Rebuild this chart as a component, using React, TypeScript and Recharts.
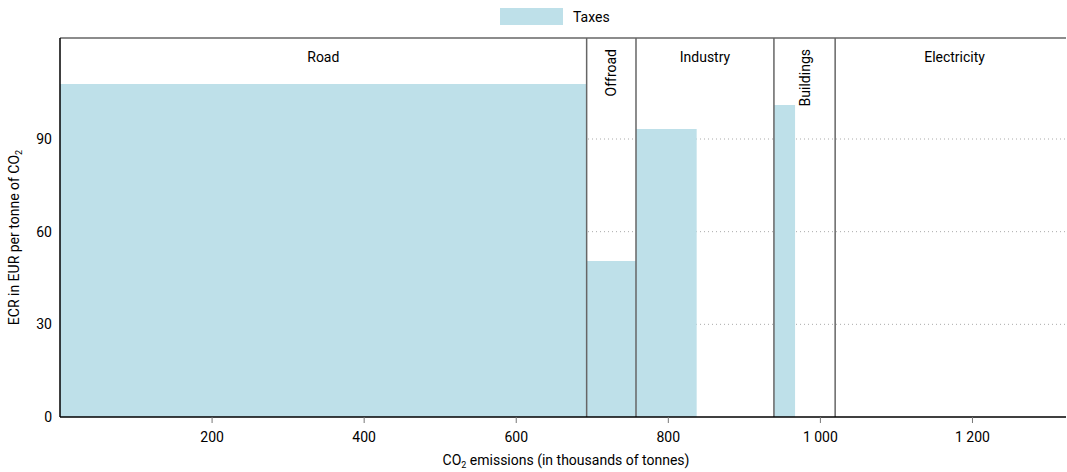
import React from 'react';
import {
  ComposedChart,
  Area,
  XAxis,
  YAxis,
  CartesianGrid,
  ReferenceLine,
  ReferenceArea,
} from 'recharts';

// Sector names and their emission boundaries (thousands of tonnes)
const sectors = ['Road', 'Offroad', 'Industry', 'Buildings', 'Electricity'];
const sectorStarts = [0, 692.6, 757.5, 938.9, 1019.4];
const sectorEnds = [692.6, 757.5, 938.9, 1019.4, 1323];
const rotatedLabels = [false, true, false, true, false];

// Step points of the tax rate (EUR per tonne of CO2) along cumulative emissions
const stepX = [0, 692.6, 757.5, 837.3, 938.9, 966.7, 1019.4, 1323];
const taxRate = [107.8, 50.5, 93.2, 0, 101, 0, 0, 0];

const xTicks = [200, 400, 600, 800, 1000, 1200];
const yTicks = [0, 30, 60, 90];

const data = stepX.map((x, i) => ({ x, taxes: taxRate[i] }));

const FONT = "'Liberation Sans Narrow', 'Arial Narrow', 'Roboto', sans-serif";
const FILL = '#bee0e9';
const X_MAX = 1323;
const Y_MAX = 122.7;

const fmt = (v: number) => {
  const s = String(v);
  return s.length > 3 ? s.slice(0, s.length - 3) + ' ' + s.slice(-3) : s;
};

const SectorLabel = (props: any) => {
  const { viewBox, text, rotated, dx = 0 } = props;
  const cx = viewBox.x + viewBox.width / 2 + dx;
  const top = viewBox.y;
  if (rotated) {
    return (
      <text
        x={cx}
        y={top + 11}
        transform={`rotate(-90, ${cx}, ${top + 11})`}
        textAnchor="end"
        dominantBaseline="central"
        fontFamily={FONT}
        fontSize={14}
        fill="#000"
      >
        {text}
      </text>
    );
  }
  return (
    <text
      x={cx}
      y={top + 24}
      textAnchor="middle"
      fontFamily={FONT}
      fontSize={14}
      fill="#000"
    >
      {text}
    </text>
  );
};

const XLabel = (props: any) => {
  const { viewBox } = props;
  const cx = viewBox.x + viewBox.width / 2 + 3;
  return (
    <text x={cx} y={465} textAnchor="middle" fontFamily={FONT} fontSize={14} fill="#000">
      CO
      <tspan fontSize={9} dy={3}>2</tspan>
      <tspan dy={-3}> emissions (in thousands of tonnes)</tspan>
    </text>
  );
};

const YLabel = (props: any) => {
  const { viewBox } = props;
  const cy = viewBox.y + viewBox.height / 2 + 10;
  const x = 19;
  return (
    <text
      x={x}
      y={cy}
      transform={`rotate(-90, ${x}, ${cy})`}
      textAnchor="middle"
      fontFamily={FONT}
      fontSize={14}
      fill="#000"
    >
      ECR in EUR per tonne of CO
      <tspan fontSize={9} dy={3}>2</tspan>
    </text>
  );
};

export default function App() {
  return (
    <div style={{ position: 'absolute', left: 0, top: 0, width: 1067, height: 472, background: '#fff' }}>
      <div
        style={{
          position: 'absolute',
          left: 500,
          top: 8,
          display: 'flex',
          alignItems: 'center',
          fontFamily: FONT,
          fontSize: 14,
          color: '#000',
          zIndex: 2,
        }}
      >
        <span style={{ display: 'inline-block', width: 63, height: 17, background: FILL }} />
        <span style={{ marginLeft: 10 }}>Taxes</span>
      </div>
      <ComposedChart
        width={1067}
        height={472}
        data={data}
        margin={{ top: 38, right: 1, bottom: 25, left: 0 }}
      >
        <CartesianGrid
          horizontal
          vertical={false}
          stroke="#aaa"
          strokeDasharray="1 3"
          horizontalValues={[30, 60, 90]}
        />
        <XAxis
          type="number"
          dataKey="x"
          domain={[0, X_MAX]}
          ticks={xTicks}
          tickFormatter={fmt}
          height={30}
          allowDataOverflow
          axisLine={{ stroke: '#000', strokeWidth: 1.5 }}
          tickLine={{ stroke: '#777' }}
          tickSize={6}
          tickMargin={9}
          tick={{ fontFamily: FONT, fontSize: 14, fill: '#000' }}
          label={<XLabel />}
        />
        <YAxis
          type="number"
          domain={[0, Y_MAX]}
          ticks={yTicks}
          width={60}
          allowDataOverflow
          axisLine={{ stroke: '#000', strokeWidth: 1.5 }}
          tickLine={false}
          tick={{ fontFamily: FONT, fontSize: 14, fill: '#000' }}
          label={<YLabel />}
        />
        <Area
          type="stepAfter"
          dataKey="taxes"
          name="Taxes"
          fill={FILL}
          fillOpacity={1}
          stroke="none"
          isAnimationActive={false}
          dot={false}
          activeDot={false}
        />
        {sectors.map((s, i) => (
          <ReferenceArea
            key={s}
            x1={sectorStarts[i]}
            x2={sectorEnds[i]}
            y1={0}
            y2={Y_MAX}
            fill="none"
            fillOpacity={0}
            stroke="none"
            ifOverflow="visible"
            label={<SectorLabel text={s} rotated={rotatedLabels[i]} dx={i === 4 ? 4 : 0} />}
          />
        ))}
        {sectorEnds.slice(0, 4).map((x) => (
          <ReferenceLine key={x} x={x} stroke="#666" strokeWidth={1.5} />
        ))}
        <ReferenceLine y={Y_MAX} stroke="#666" strokeWidth={1.5} />
      </ComposedChart>
    </div>
  );
}
